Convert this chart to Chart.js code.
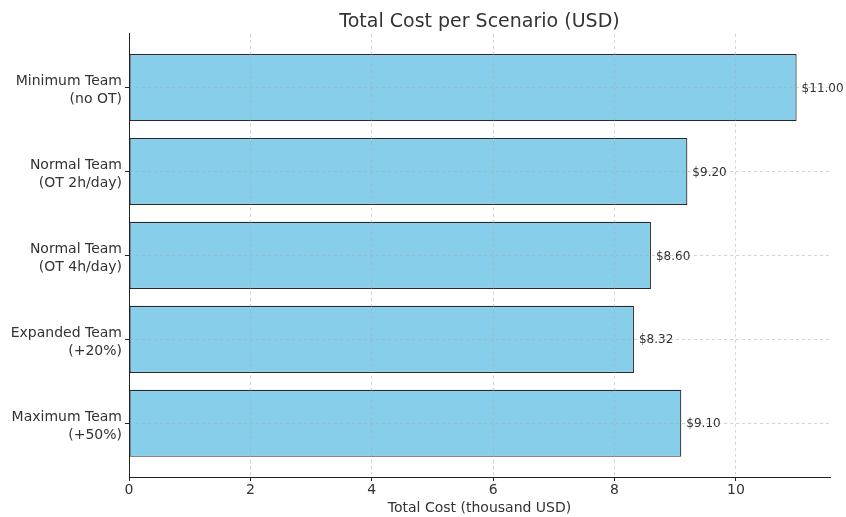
<!DOCTYPE html>
<html>
<head>
<meta charset="utf-8">
<script src="https://cdn.jsdelivr.net/npm/chart.js@4"></script>
<style>
  html,body{margin:0;padding:0;background:#fff;}
  #wrap{width:846px;height:517px;}
</style>
</head>
<body>
<div id="wrap"><canvas id="chart" width="846" height="517"></canvas></div>
<script>
// --- Data ---
const scenarios = [
  ['Minimum Team', '(no OT)'],
  ['Normal Team', '(OT 2h/day)'],
  ['Normal Team', '(OT 4h/day)'],
  ['Expanded Team', '(+20%)'],
  ['Maximum Team', '(+50%)']
];
const totalCost = [11.00, 9.20, 8.60, 8.32, 9.10];
const xTicks = [0, 2, 4, 6, 8, 10];

const FONT = "'DejaVu Sans', sans-serif";
const TXT = '#333';

// --- value labels at the end of each bar (drawn last, over the grid) ---
const barLabels = {
  id: 'barLabels',
  afterDraw(chart){
    const ctx = chart.ctx;
    const meta = chart.getDatasetMeta(0);
    ctx.save();
    ctx.font = '12px ' + FONT;
    ctx.fillStyle = TXT;
    ctx.textAlign = 'left';
    ctx.textBaseline = 'middle';
    meta.data.forEach((bar, i)=>{
      ctx.fillText('$' + totalCost[i].toFixed(2), bar.x + 5, bar.y + 1);
    });
    ctx.restore();
  }
};

const gridOpts = {
  color: 'rgba(170,170,170,0.5)',
  offset: false,
  z: 1,
  tickColor: '#222',
  tickLength: 4,
  tickBorderDash: [1, 0],
  tickWidth: 1
};

new Chart(document.getElementById('chart'), {
  type: 'bar',
  data: {
    datasets: [{
      data: totalCost.map((v,i)=>({x:v, y:i})),
      backgroundColor: '#87CEEB',
      borderColor: '#2a2a2a',
      borderWidth: 1.2,
      borderSkipped: false,
      barPercentage: 0.8,
      categoryPercentage: 1
    }]
  },
  options: {
    indexAxis: 'y',
    responsive: false,
    animation: false,
    layout: {padding: {left: 0, right: 16, top: 0, bottom: 0}},
    plugins: {
      legend: {display: false},
      tooltip: {enabled: false},
      title: {
        display: true,
        fullSize: false,
        text: 'Total Cost per Scenario (USD)',
        color: TXT,
        font: {family: FONT, size: 19, weight: 'normal'},
        padding: {top: 11, bottom: 0}
      }
    },
    scales: {
      x: {
        type: 'linear',
        min: 0,
        max: 11.55,
        offset: false,
        z: 1,
        afterBuildTicks: s => { s.ticks = xTicks.map(v=>({value:v})); },
        afterFit: s => { s.height = 40; },
        border: {display: true, color: '#222', width: 1, dash: [3, 3], z: 2},
        grid: gridOpts,
        ticks: {color: TXT, font: {family: FONT, size: 14}, padding: 1},
        title: {
          display: true,
          text: 'Total Cost (thousand USD)',
          color: TXT,
          font: {family: FONT, size: 14},
          padding: {top: 1, bottom: 0}
        }
      },
      y: {
        type: 'linear',
        min: -0.64,
        max: 4.64,
        reverse: true,
        offset: false,
        z: 1,
        afterBuildTicks: s => { s.ticks = scenarios.map((_,i)=>({value:i})); },
        afterFit: s => { s.width = 129; },
        border: {display: true, color: '#222', width: 1, dash: [3, 3], z: 2},
        grid: gridOpts,
        ticks: {
          color: TXT,
          font: {family: FONT, size: 14, lineHeight: 1.3},
          padding: 3,
          labelOffset: 3,
          callback: v => scenarios[v]
        }
      }
    }
  },
  plugins: [barLabels]
});
</script>
</body>
</html>
